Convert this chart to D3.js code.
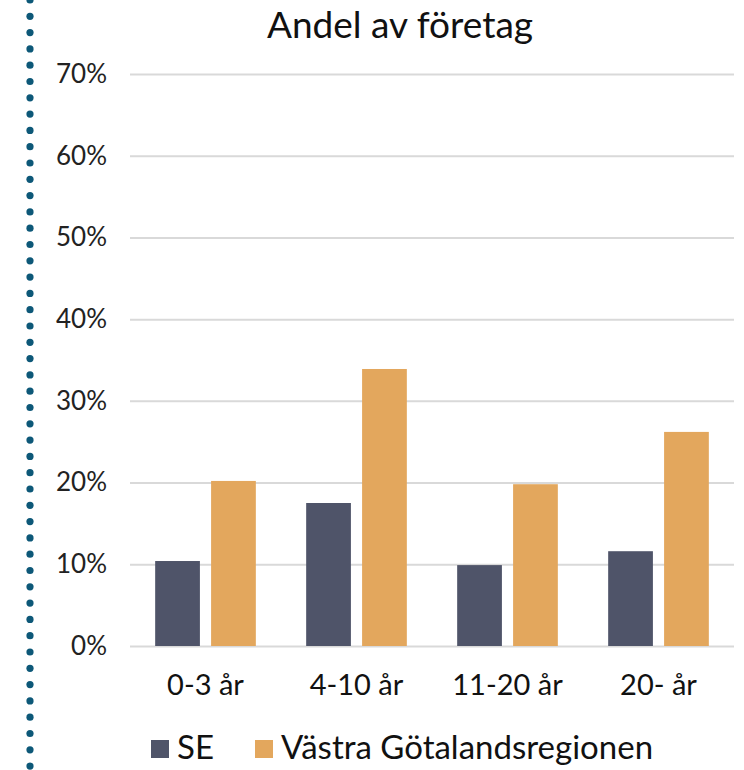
<!DOCTYPE html>
<html>
<head>
<meta charset="utf-8">
<script src="https://cdn.jsdelivr.net/npm/d3@7"></script>
<style>
  html, body { margin: 0; padding: 0; background: #fff; }
  svg { display: block; font-family: Lato, "Open Sans", sans-serif; }
</style>
</head>
<body>
<svg id="chart" width="744" height="770"></svg>
<script>
// Share of companies by company age
const categories = ["0-3 år", "4-10 år", "11-20 år", "20- år"];
const seriesNames = ["SE", "Västra Götalandsregionen"];
const seValues = [0.104, 0.175, 0.099, 0.116];
const vgrValues = [0.202, 0.339, 0.198, 0.262];
const yTicks = [0, 0.1, 0.2, 0.3, 0.4, 0.5, 0.6, 0.7];
const colors = ["#4f5469", "#e3a75d"];

const svg = d3.select("#chart");
const margin = { left: 130, right: 10, top: 74, bottom: 124 };
const W = 744, H = 770;

const x0 = d3.scaleBand().domain(categories).range([margin.left, W - margin.right]).paddingInner(0).paddingOuter(0);
const x1 = d3.scaleBand().domain(seriesNames).range([0, x0.bandwidth()]).paddingInner(0.2).paddingOuter(0.45);
const y = d3.scaleLinear().domain([0, 0.7]).range([H - margin.bottom, margin.top]);

// decorative dotted rule on the left edge
const dots = d3.range(0, 48);
svg.append("g").selectAll("circle").data(dots).enter().append("circle")
  .attr("cx", 30).attr("cy", d => 0 + d * 16.3).attr("r", 3.6).attr("fill", "#0d5878");

// title
svg.append("text").attr("x", 400).attr("y", 38).attr("text-anchor", "middle")
  .attr("font-size", 37).attr("fill", "#111").text("Andel av företag");

// gridlines and percentage ticks
const yAxis = d3.axisLeft(y).tickValues(yTicks).tickFormat(d3.format(".0%"))
  .tickSize(-(W - margin.left - margin.right)).tickPadding(23);
const gy = svg.append("g").attr("transform", `translate(${margin.left},0)`).call(yAxis);
gy.select(".domain").remove();
gy.selectAll(".tick line").attr("stroke", "#d9d9d9").attr("stroke-width", 2);
gy.selectAll(".tick text").attr("font-size", 26).attr("fill", "#222")
  .attr("font-family", "Lato, sans-serif");

// bars
const groups = svg.append("g").selectAll("g").data(categories).enter().append("g")
  .attr("transform", d => `translate(${x0(d)},0)`);
groups.selectAll("rect").data((d, i) => [
    { s: seriesNames[0], v: seValues[i], c: colors[0] },
    { s: seriesNames[1], v: vgrValues[i], c: colors[1] }])
  .enter().append("rect")
  .attr("x", d => x1(d.s)).attr("width", x1.bandwidth())
  .attr("y", d => y(d.v)).attr("height", d => y(0) - y(d.v))
  .attr("fill", d => d.c);

// category axis labels
const xAxis = d3.axisBottom(x0).tickSize(0).tickPadding(28);
const gx = svg.append("g").attr("transform", `translate(0,${y(0)})`).call(xAxis);
gx.select(".domain").remove();
gx.selectAll(".tick text").attr("font-size", 29).attr("fill", "#111")
  .attr("font-family", "Lato, sans-serif");

// legend
const legend = svg.append("g").attr("transform", "translate(151,735)");
const items = [{ n: seriesNames[0], c: colors[0], x: 0 }, { n: seriesNames[1], c: colors[1], x: 104 }];
const li = legend.selectAll("g").data(items).enter().append("g")
  .attr("transform", d => `translate(${d.x},0)`);
li.append("rect").attr("width", 18).attr("height", 18).attr("y", 5).attr("fill", d => d.c);
li.append("text").attr("x", 26).attr("y", 24).attr("font-size", 33).attr("fill", "#111").text(d => d.n);
</script>
</body>
</html>
